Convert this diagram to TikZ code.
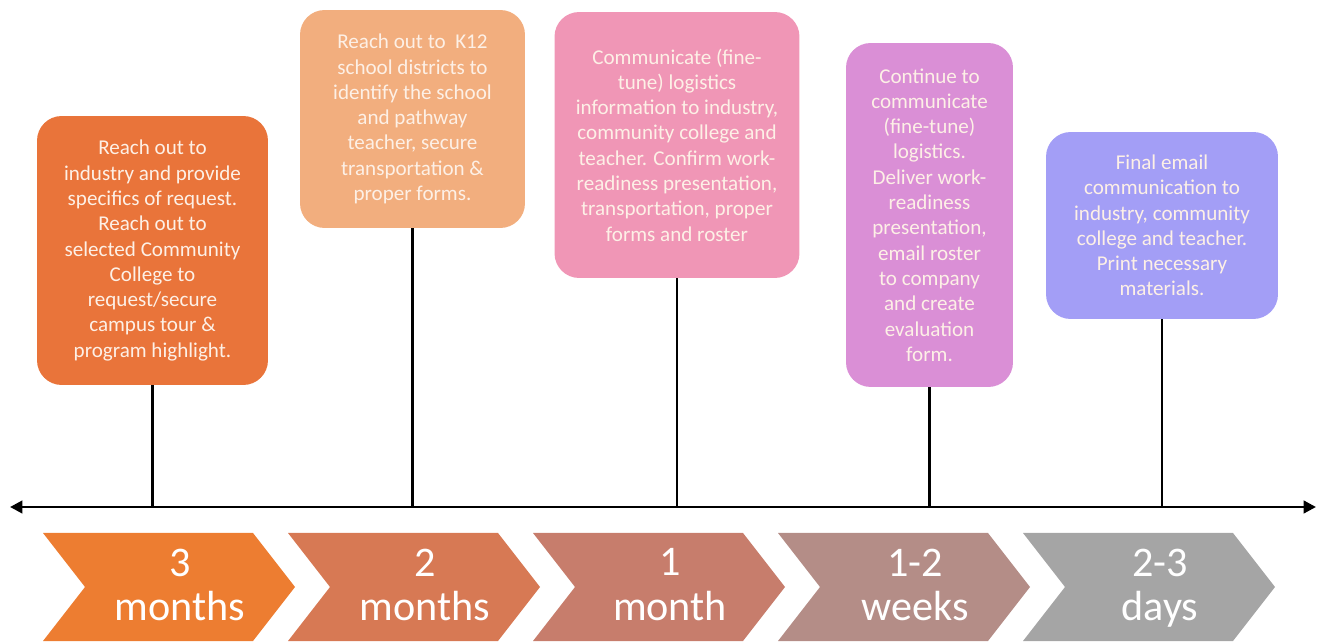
\documentclass[tikz,border=0pt]{standalone}
\usepackage{fontspec}
\setmainfont{Carlito}
\usetikzlibrary{arrows.meta}

\definecolor{boxA}{RGB}{233,116,58}
\definecolor{boxB}{RGB}{242,174,126}
\definecolor{boxC}{RGB}{240,150,182}
\definecolor{boxD}{RGB}{218,143,214}
\definecolor{boxE}{RGB}{163,158,246}
\definecolor{boxtext}{RGB}{253,240,230}
\definecolor{chA}{RGB}{237,125,49}
\definecolor{chB}{RGB}{215,121,84}
\definecolor{chC}{RGB}{199,125,108}
\definecolor{chD}{RGB}{180,141,135}
\definecolor{chE}{RGB}{165,165,165}

\begin{document}
\begin{tikzpicture}[x=0.02cm,y=-0.02cm,
	stepbox/.style={rounded corners=14pt,fill=#1,text=boxtext,align=center,
		font=\fontsize{12}{14.4}\selectfont,inner sep=0pt},
	stem/.style={line width=1.2pt},
	chevtext/.style={text=white,align=center,text depth=0.25em,font=\fontsize{24}{25.5}\selectfont}]
	\useasboundingbox (0,0) rectangle (1321,644);
	\def\axisy{507} % y of the time line
	
	% boxes
	\node[stepbox=boxA,minimum width=4.62cm,minimum height=5.38cm] (b1) at (152.5,250.5)
		{Reach out to\\industry and provide\\specifics of request.\\Reach out to\\selected Community\\College to\\request/secure\\campus tour \&\\program highlight.};
	\node[stepbox=boxB,minimum width=4.50cm,minimum height=4.36cm] (b2) at (412.5,119)
		{Reach out to~ K12\\school districts to\\identify the school\\and pathway\\teacher, secure\\transportation \&\\proper forms.};
	\node[stepbox=boxC,minimum width=4.90cm,minimum height=5.32cm] (b3) at (677,145)
		{Communicate (fine-\\tune) logistics\\information to industry,\\community college and\\teacher. Confirm work-\\readiness presentation,\\transportation, proper\\forms and roster};
	\node[stepbox=boxD,minimum width=3.34cm,minimum height=6.88cm] (b4) at (929.5,215)
		{Continue to\\communicate\\(fine-tune)\\logistics.\\Deliver work-\\readiness\\presentation,\\email roster\\to company\\and create\\evaluation\\form.};
	\node[stepbox=boxE,minimum width=4.64cm,minimum height=3.74cm] (b5) at (1162,225.5)
		{Final email\\communication to\\industry, community\\college and teacher.\\Print necessary\\materials.};
	
	% time line
	\coordinate (axL) at (10,\axisy);
	\coordinate (axR) at (1316,\axisy);
	\draw[line width=1.7pt,{Triangle[length=7pt,width=7pt]}-{Triangle[length=7pt,width=7pt]}] (axL) -- (axR);
	\foreach \b in {b1,b2,b3,b4,b5}
		\draw[stem] (\b.south) -- (\b.south |- axL);
	
	% chevrons
	\foreach \i/\col/\nb/\unit [count=\n] in {0/chA/3/months,1/chB/2/months,2/chC/1/month,3/chD/1-2/weeks,4/chE/2-3/days}{
		\pgfmathsetmacro\xo{43+245*\i}
		\fill[\col] (\xo,533) -- ++(210,0) -- ++(42,54) -- ++(-42,54) -- ++(-210,0) -- ++(42,-54) -- cycle;
		\node[chevtext] (c\n) at (\xo+137,587) {\nb\\\unit};
	}
\end{tikzpicture}
\end{document}
